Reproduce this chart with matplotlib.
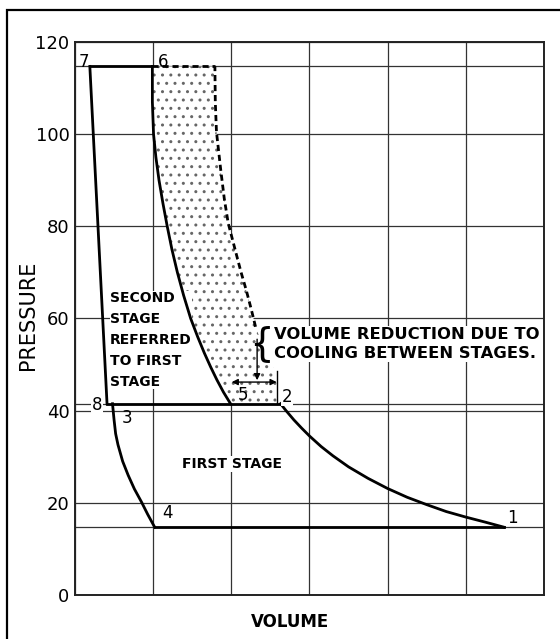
import matplotlib
matplotlib.use("Agg")
import matplotlib.pyplot as plt
import numpy as np
from matplotlib.patches import Rectangle

# pressure levels of the two stage cycle
p_low = 14.7
p_mid = 41.5
p_high = 114.7

# 7-8 : second stage suction line (referred to first stage)
v78 = [0.19, 0.41]
p78 = [114.7, 41.5]

# 3-4 : re-expansion curve
v34 = [0.48, 0.50, 0.52, 0.55, 0.61, 0.68, 0.76, 0.85, 0.93, 1.02]
p34 = [41.5, 38.0, 35.0, 32.6, 29.0, 26.0, 23.0, 20.2, 17.5, 14.7]

# 5-6 : second stage compression
v56 = [1.99, 1.90, 1.815, 1.735, 1.655, 1.57, 1.48, 1.39, 1.31, 1.24, 1.18,
       1.125, 1.075, 1.035, 1.005, 0.99, 0.99]
p56 = [41.5, 44.0, 46.7, 49.5, 52.5, 56.0, 60.0, 65.0, 70.0, 75.0, 80.0,
       85.0, 90.0, 95.0, 100.0, 107.0, 114.7]

# compression without intercooling (dashed)
v2d = [2.31, 2.255, 2.19, 2.125, 2.06, 1.96, 1.91, 1.865, 1.81, 1.795, 1.79]
p2d = [58.2, 62.0, 66.2, 70.0, 74.2, 80.7, 86.0, 92.2, 100.5, 107.0, 114.7]

# lower edge of the stippled area below the dashed curve
v_edge = [2.58, 2.58, 2.45]
p_edge = [41.5, 48.0, 52.0]

# 1-2 : first stage compression
v12 = [5.49, 5.25, 5.0, 4.75, 4.5, 4.25, 4.0, 3.75, 3.5, 3.3, 3.15, 3.0,
       2.9, 2.8, 2.7, 2.63]
p12 = [14.7, 15.8, 16.9, 18.1, 19.6, 21.2, 23.1, 25.3, 27.8, 30.2, 32.2,
       34.5, 36.2, 38.0, 40.0, 41.5]

# point labels
pt_names = ['7', '6', '5', '2', '8', '3', '4', '1']
pt_v = [0.115, 1.13, 2.15, 2.71, 0.28, 0.665, 1.18, 5.60]
pt_p = [115.7, 115.7, 43.4, 43.0, 41.2, 38.4, 17.8, 16.7]

fig = plt.figure(figsize=(5.6, 6.39), dpi=100)
ax = fig.add_axes([0.1339, 0.0689, 0.8375, 0.8654])

# outer frame of the figure (cut off at right and bottom)
fig.patches.append(Rectangle((0.0125, -0.2), 1.3, 1.1844, transform=fig.transFigure,
                             fill=False, lw=1.6, ec='black'))

ax.set_xlim(0, 6)
ax.set_ylim(0, 120)
ax.set_xticks(np.arange(0, 7, 1))
ax.set_xticklabels([])
ax.set_yticks(np.arange(0, 121, 20))
ax.set_yticks([p_low, 40, p_mid, p_high], minor=True)
ax.tick_params(axis='both', which='both', length=0)
ax.tick_params(axis='y', labelsize=13, pad=4)
ax.grid(True, which='both', color='#333333', lw=0.9)
ax.set_axisbelow(True)
for s in ax.spines.values():
    s.set_linewidth(1.4)
    s.set_color('#222222')
    s.set_zorder(6)

ax.set_ylabel('PRESSURE', fontsize=15)
ax.yaxis.set_label_coords(-0.079, 0.506)
ax.set_xlabel('VOLUME', fontsize=12, fontweight='bold')
ax.xaxis.set_label_coords(0.458, -0.033)

# stippled area between cooled and uncooled compression
pp = np.linspace(p_mid, p_high, 80)
left = np.interp(pp, p56, v56)
right = np.interp(pp, p_edge + p2d, v_edge + v2d)
plt.rcParams['hatch.linewidth'] = 1.0
ax.fill_betweenx(pp, left, right, facecolor='white', edgecolor='#666666',
                 hatch='..', lw=0, zorder=2)

lw = 2.0
ax.plot(v78, p78, color='black', lw=lw, zorder=4)
ax.plot([v78[0], v56[-1]], [p_high, p_high], color='black', lw=lw, zorder=4)
ax.plot(v56, p56, color='black', lw=lw, zorder=4)
ax.plot([v78[1], v12[-1]], [p_mid, p_mid], color='black', lw=lw, zorder=4)
ax.plot(v34, p34, color='black', lw=lw, zorder=4)
ax.plot([v34[-1], v12[0]], [p_low, p_low], color='black', lw=lw, zorder=4)
ax.plot(v12, p12, color='black', lw=lw, zorder=4)
dash = (0, (2.2, 1.4))
ax.plot(v2d, p2d, color='black', lw=2.0, ls=dash, zorder=4)
ax.plot([v56[-1], v2d[-1]], [p_high, p_high], color='black', lw=2.0, ls=dash, zorder=4)

for n, v, p in zip(pt_names, pt_v, pt_p):
    ax.text(v, p, n, fontsize=12, ha='center', va='center', zorder=5,
            bbox=dict(fc='white', ec='none', pad=0.5) if n in ('8', '2') else None)

# volume reduction dimension
ax.plot([2.58, 2.58], [p_mid, 48.5], color='black', lw=1.0, zorder=4)
ax.annotate('', xy=(2.005, 46.2), xytext=(2.58, 46.2), zorder=5,
            arrowprops=dict(arrowstyle='<|-|>', color='black', lw=1.0,
                            shrinkA=0, shrinkB=0, mutation_scale=9))
ax.annotate('', xy=(2.33, 46.6), xytext=(2.33, 55.5), zorder=5,
            arrowprops=dict(arrowstyle='-|>', color='black', lw=1.0,
                            shrinkA=0, shrinkB=0, mutation_scale=9))
ax.text(2.385, 54.4, '{', fontsize=28, ha='center', va='center', zorder=5)
ax.text(2.545, 54.5, 'VOLUME REDUCTION DUE TO\nCOOLING BETWEEN STAGES.',
        fontsize=11.8, fontweight='bold', ha='left', va='center',
        linespacing=1.35, zorder=3, bbox=dict(fc='white', ec='none', pad=0.5))

ax.text(0.45, 55.3, 'SECOND\nSTAGE\nREFERRED\nTO FIRST\nSTAGE', fontsize=10,
        fontweight='bold', ha='left', va='center', linespacing=1.65, zorder=3,
        bbox=dict(fc='white', ec='none', pad=0))
ax.text(2.01, 28.4, 'FIRST STAGE', fontsize=10, fontweight='bold', ha='center',
        va='center', zorder=3, bbox=dict(fc='white', ec='none', pad=1))

fig.savefig('out.png', dpi=100)
